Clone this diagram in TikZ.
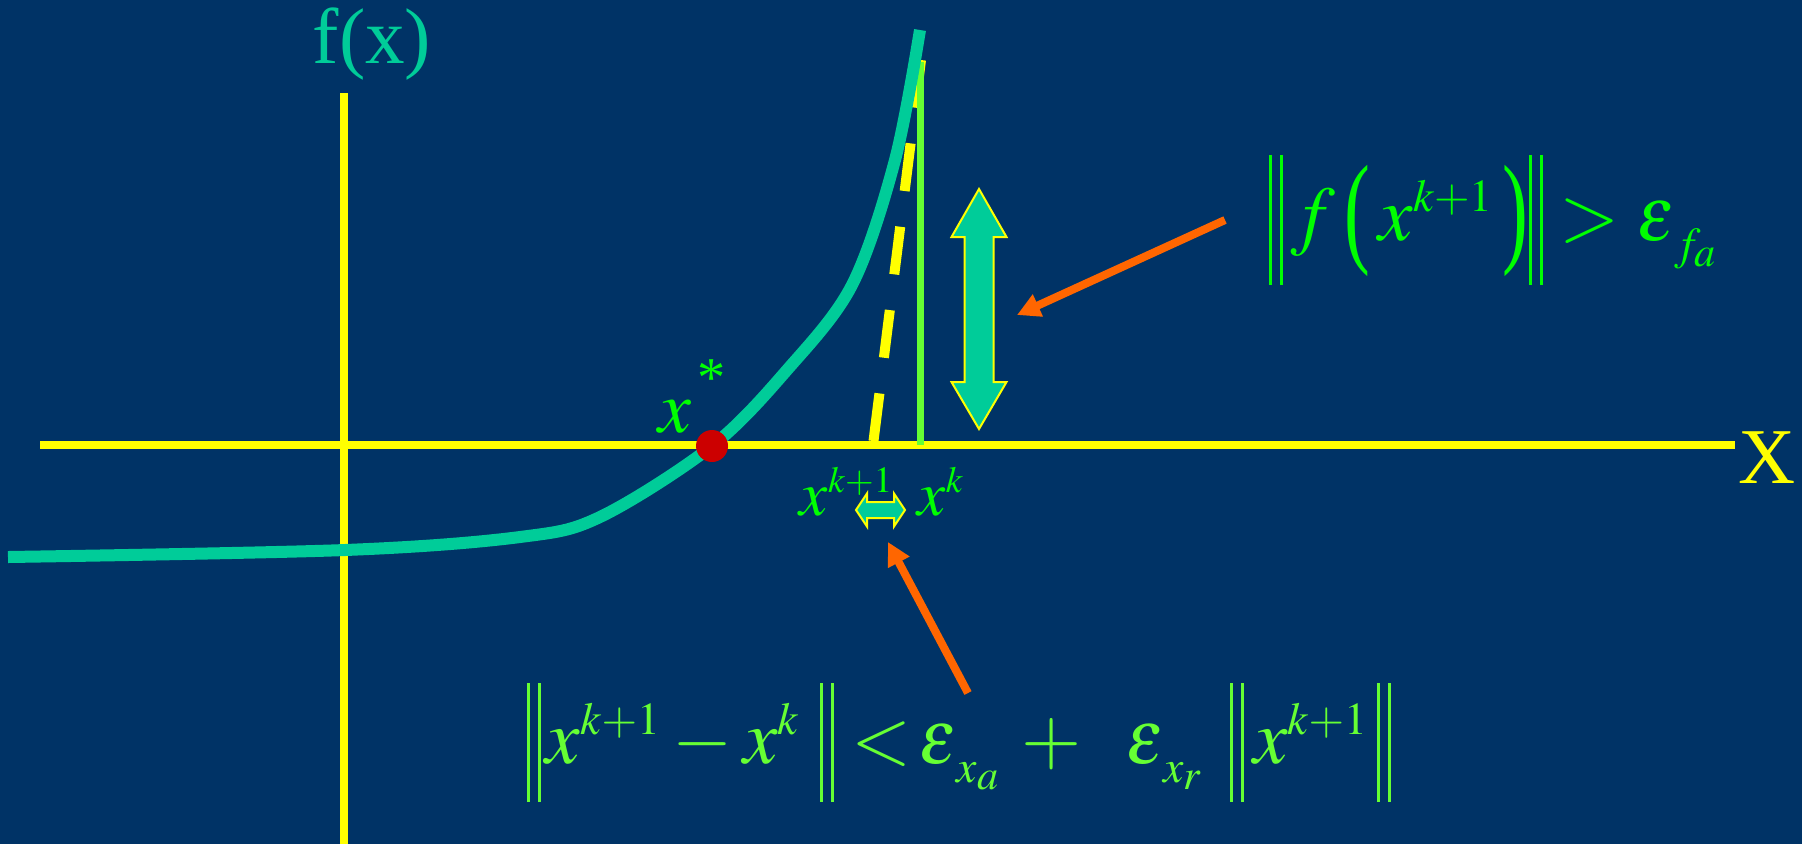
\documentclass[tikz,border=0pt]{standalone}
\usepackage{mathptmx}
\usepackage[no-math]{fontspec}
\setmainfont{Liberation Serif}
\usepackage{xcolor}
\usepackage{graphicx}
\usetikzlibrary{arrows.meta}
\DeclareMathSizes{22}{22}{13}{12}
\DeclareMathSizes{21}{21}{12.5}{9}
\DeclareMathSizes{18}{18}{10.5}{8}
\definecolor{bgblue}{HTML}{003366}
\definecolor{axisyellow}{HTML}{FFFF00}
\definecolor{curveteal}{HTML}{00CC99}
\definecolor{stepgreen}{HTML}{66FF33}
\definecolor{labelgreen}{HTML}{00FF00}
\definecolor{pointorange}{HTML}{FF6600}
\definecolor{rootred}{HTML}{CC0000}
\newcommand{\nbars}[2]{\vrule width 0.85pt height #1 depth #2\hskip 2.3pt\vrule width 0.85pt height #1 depth #2}
\newcommand{\tallparen}[1]{\raisebox{-3pt}{\scalebox{1}[1.59]{#1}}}
\newcommand{\lowsub}[1]{\lower2.3pt\hbox{$\scriptstyle #1$}}
\newcommand{\tol}{\mathord{\scalebox{0.92}[1]{$\varepsilon$}}}

\begin{document}
\begin{tikzpicture}[x=0.1mm, y=-0.1mm, every node/.style={inner sep=0pt},
  axisline/.style={axisyellow, line width=0.8mm},
  fcurve/.style={curveteal, line width=1.2mm},
  newtonline/.style={axisyellow, line width=1mm, dash pattern=on 4.8mm off 3.6mm},
  gaparrow/.style={fill=curveteal, draw=axisyellow, line width=0.2mm, line join=miter},
  pointer/.style={-{Triangle[length=2.3mm,width=2.3mm]}, pointorange, line width=0.8mm},
  lbl/.style={anchor=base},
  bigfont/.style={font=\fontsize{22pt}{27pt}\selectfont}]
\path[use as bounding box, fill=bgblue] (0,0) rectangle (1802,844);
\draw[axisline] (40,445) -- (1735,445);
\draw[axisline] (344,93) -- (344,844);
\draw[newtonline] (921,60) -- (873,445);
\draw[stepgreen, line width=0.7mm] (920,62) -- (920,445);
\draw[fcurve] plot[smooth, tension=0.55] coordinates {(8,557) (345,550) (520,537) (600,517) (712,446) (787,370) (852,285) (895,160) (920,30)};
\node[circle, fill=rootred, minimum size=3.2mm] (root) at (712,446) {};
\node[lbl, curveteal, font=\fontsize{22.5pt}{27pt}\selectfont] (fx) at (372,63) {f(x)};
\node[lbl, axisyellow, font=\fontsize{22.5pt}{27pt}\selectfont] (X) at (1767,483) {X};
\node[lbl, labelgreen, font=\fontsize{21pt}{25pt}\selectfont] (xstar) at (693,432) {$x^{\hbox{\hskip 1.7pt\raise 2.5pt\hbox{\fontsize{16pt}{18pt}\selectfont *}}}$};
\node[lbl, labelgreen, font=\fontsize{18pt}{22pt}\selectfont] (xnew) at (847,515) {$x^{k+1}$};
\node[lbl, labelgreen, font=\fontsize{18pt}{22pt}\selectfont] (xold) at (941,515) {$x^{k}$};
\draw[gaparrow] (979,189) -- (1006.5,237) -- (993.5,237) -- (993.5,382) -- (1006.5,382) -- (979,429) -- (951.5,382) -- (964.5,382) -- (964.5,237) -- (951.5,237) -- cycle;
\draw[gaparrow] (856,510) -- (867,493.5) -- (867,502) -- (894,502) -- (894,493.5) -- (905,510) -- (894,526.5) -- (894,518) -- (867,518) -- (867,526.5) -- cycle;
\node[lbl, labelgreen, bigfont] (fnorm) at (1494,240) {$\nbars{24.2pt}{12.8pt}\,f\,\tallparen{(}\,x^{k+1}\,\tallparen{)}\nbars{24.2pt}{12.8pt}>\tol_{\lowsub{f_a}}$};
\node[lbl, stepgreen, bigfont] (xnorm) at (959,763) {$\nbars{22.8pt}{11.1pt}\hskip1.5pt x^{k+1}-x^{k}\hskip5.5pt\nbars{22.8pt}{11.1pt}<\mkern-2mu\tol_{\lowsub{x_a}}\,+\;\;\tol_{\lowsub{x_r}}\;\,\nbars{22.8pt}{11.1pt}\,x^{k+1}\,\nbars{22.8pt}{11.1pt}$};
\coordinate (ftail) at (1225,220);
\coordinate (ftip) at (1017,315);
\coordinate (xtail) at (968,693);
\coordinate (xtip) at (888,542);
\draw[pointer] (ftail) -- (ftip);
\draw[pointer] (xtail) -- (xtip);
\end{tikzpicture}
\end{document}
